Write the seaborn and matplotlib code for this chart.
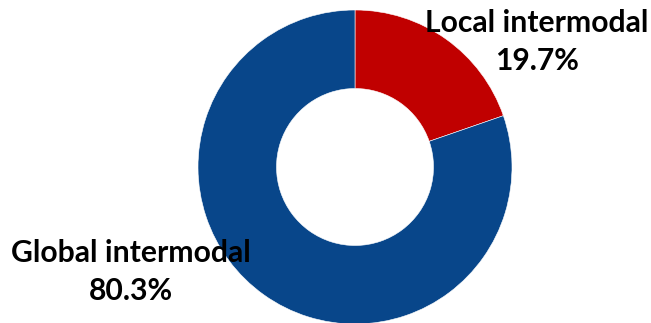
import matplotlib
matplotlib.use("Agg")
import matplotlib.pyplot as plt
import seaborn as sns

categories = ["Local intermodal", "Global intermodal"]
shares = [19.7, 80.3]
label_text = ["Local intermodal\n19.7%", "Global intermodal\n80.3%"]

sns.set_theme(style="white")
plt.rcParams["font.family"] = ["Lato", "DejaVu Sans"]

W, H, DPI = 651, 323, 100
fig = plt.figure(figsize=(W / DPI, H / DPI), dpi=DPI)
ax = fig.add_axes([0, 0, 1, 1])

colors = ["#C00000", "#08468A"]
ax.pie(shares, colors=colors, startangle=90, counterclock=False,
       wedgeprops=dict(width=0.5, edgecolor="white", linewidth=0.4))

# donut centre at (355, 167) px, radius 157 px
cx, cy, r = 355, 167, 157
ax.set_xlim(-cx / r, (W - cx) / r)
ax.set_ylim(-(H - cy) / r, cy / r)
ax.set_aspect("auto")
ax.axis("off")

label_pos = [((537 - cx) / r, (cy - 42) / r), ((131 - cx) / r, (cy - 272) / r)]
for txt, (x, y) in zip(label_text, label_pos):
    ax.text(x, y, txt, ha="center", va="center", fontsize=21.7,
            fontweight="bold", color="black", linespacing=1.4)

fig.savefig("out.png", dpi=DPI)
